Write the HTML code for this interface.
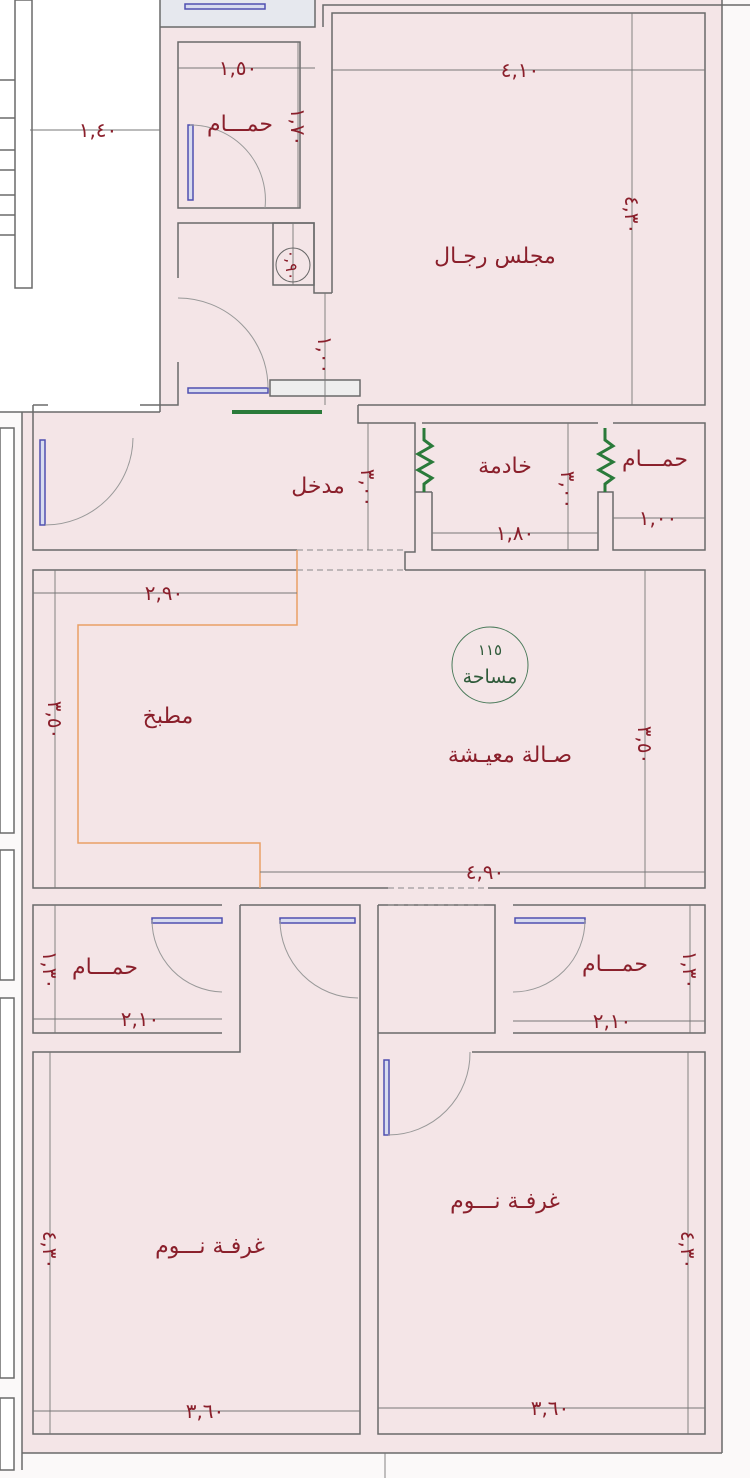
<!DOCTYPE html>
<html><head><meta charset="utf-8"><style>
html,body{margin:0;padding:0;background:#fff;}
svg{display:block;}
text{font-family:"DejaVu Sans","Liberation Sans",sans-serif;fill:#8a1f2b;}
.d{font-size:20px;}
.l{font-size:22px;}
</style></head><body>
<svg width="750" height="1478" viewBox="0 0 750 1478" xmlns="http://www.w3.org/2000/svg">
<rect x="0" y="0" width="750" height="1478" fill="#fbf9f9"/>
<rect x="22" y="0" width="700" height="1453" fill="#f4e5e7"/>
<rect x="0" y="0" width="160" height="412" fill="#ffffff"/>
<rect x="160" y="0" width="155" height="27" fill="#e6e8ee"/>
<g fill="none" stroke="#6a6a6a" stroke-width="1.5">
<rect x="15" y="0" width="17" height="288" fill="#fff"/>
<line x1="0" y1="80" x2="15" y2="80"/><line x1="0" y1="118" x2="15" y2="118"/><line x1="0" y1="150" x2="15" y2="150"/><line x1="0" y1="170" x2="15" y2="170"/><line x1="0" y1="195" x2="15" y2="195"/><line x1="0" y1="215" x2="15" y2="215"/><line x1="0" y1="235" x2="15" y2="235"/>
<line x1="160" y1="0" x2="160" y2="412"/><line x1="0" y1="412" x2="160" y2="412"/>
<line x1="22" y1="412" x2="22" y2="1470"/>
<rect x="0" y="428" width="14" height="405" fill="#fff"/>
<rect x="0" y="850" width="14" height="130" fill="#fff"/>
<rect x="0" y="998" width="14" height="380" fill="#fff"/>
<rect x="0" y="1398" width="14" height="72" fill="#fff"/>
<line x1="722" y1="0" x2="722" y2="1453"/>
<line x1="22" y1="1453" x2="722" y2="1453"/>
<polyline points="315,0 315,27 160,27"/>
<polyline points="323,27 323,5 750,5"/>
<polyline points="332,293 332,13 705,13 705,405 358,405"/>
<polyline points="332,293 314,293 314,223 178,223 178,278"/>
<rect x="273" y="223" width="41" height="62"/>
<rect x="178" y="42" width="122" height="166"/>
<polyline points="178,362 178,405 140,405"/>
<line x1="33" y1="405" x2="48" y2="405"/>
<rect x="270" y="380" width="90" height="16" fill="#eee"/>
<polyline points="33,405 33,550 297,550"/>
<polyline points="358,405 358,423 415,423 415,552 405,552 405,570"/>
<polyline points="422,423 598,423"/>
<polyline points="432,492 432,550 598,550 598,492 613,492 613,550 705,550 705,423 613,423"/>
<line x1="415" y1="492" x2="432" y2="492"/>
<polyline points="405,570 705,570 705,888 488,888"/>
<polyline points="297,570 33,570 33,888 388,888"/>
<polyline points="222,1033 33,1033 33,905 222,905"/>
<polyline points="240,905 360,905 360,1434 33,1434 33,1052 240,1052 240,905"/>
<polyline points="378,905 378,1434 705,1434 705,1052 472,1052"/>
<polyline points="378,905 495,905 495,1033 378,1033"/>
<polyline points="513,905 705,905 705,1033 513,1033"/>
</g>
<g stroke="#888" stroke-width="1" stroke-dasharray="6,4"><line x1="297" y1="550" x2="405" y2="550"/><line x1="297" y1="570" x2="405" y2="570"/><line x1="388" y1="888" x2="488" y2="888"/><line x1="388" y1="905" x2="488" y2="905"/></g>
<polyline points="297,550 297,625 78,625 78,843 260,843 260,888" fill="none" stroke="#e9a066" stroke-width="1.5"/>
<g stroke="#5050b0" stroke-width="1.5" fill="#d8dcef">
<rect x="185" y="4" width="80" height="5"/><rect x="188" y="125" width="5" height="75"/><rect x="188" y="388" width="80" height="5"/><rect x="40" y="440" width="5" height="85"/>
<rect x="152" y="918" width="70" height="5"/><rect x="280" y="918" width="75" height="5"/><rect x="515" y="918" width="70" height="5"/><rect x="384" y="1060" width="5" height="75"/>
</g>
<g fill="none" stroke="#999" stroke-width="1">
<path d="M190,125 A75,75 0 0 1 265,208"/><path d="M178,298 A90,90 0 0 1 268,388"/><path d="M45,525 A88,88 0 0 0 133,438"/>
<path d="M152,920 A72,72 0 0 0 222,992"/><path d="M280,920 A78,78 0 0 0 358,998"/><path d="M585,920 A72,72 0 0 1 513,992"/><path d="M388,1135 A82,82 0 0 0 470,1052"/>
</g>
<line x1="232" y1="412" x2="322" y2="412" stroke="#2a7a3a" stroke-width="4"/>
<g stroke="#2a7a3a" stroke-width="3" fill="none"><polyline points="424,428 424,440 432,446 418,454 432,462 418,470 432,478 424,484 424,492"/><polyline points="605,428 605,440 613,446 599,454 613,462 599,470 613,478 605,484 605,492"/></g>
<g stroke="#777" stroke-width="0.9">
<line x1="30" y1="130" x2="160" y2="130"/><line x1="178" y1="68" x2="315" y2="68"/><line x1="298" y1="42" x2="298" y2="208"/>
<line x1="332" y1="70" x2="705" y2="70"/><line x1="632" y1="13" x2="632" y2="405"/><line x1="293" y1="223" x2="293" y2="285"/>
<line x1="325" y1="293" x2="325" y2="405"/><line x1="368" y1="423" x2="368" y2="550"/><line x1="568" y1="423" x2="568" y2="550"/>
<line x1="432" y1="533" x2="598" y2="533"/><line x1="613" y1="518" x2="705" y2="518"/><line x1="33" y1="593" x2="297" y2="593"/>
<line x1="55" y1="570" x2="55" y2="888"/><line x1="645" y1="570" x2="645" y2="888"/><line x1="260" y1="872" x2="705" y2="872"/>
<line x1="55" y1="905" x2="55" y2="1033"/><line x1="690" y1="905" x2="690" y2="1033"/><line x1="33" y1="1019" x2="222" y2="1019"/><line x1="513" y1="1021" x2="705" y2="1021"/>
<line x1="50" y1="1052" x2="50" y2="1434"/><line x1="688" y1="1052" x2="688" y2="1434"/><line x1="33" y1="1411" x2="360" y2="1411"/><line x1="378" y1="1408" x2="705" y2="1408"/>
<line x1="385" y1="1453" x2="385" y2="1478"/>
</g>
<circle cx="293" cy="265" r="17" fill="none" stroke="#666"/>
<circle cx="490" cy="665" r="38" fill="none" stroke="#4a7a5a"/>
<g class="d" text-anchor="middle">
<text x="98" y="137">١,٤٠</text><text x="238" y="75">١,٥٠</text><text x="520" y="77">٤,١٠</text>
<text x="140" y="1026">٢,١٠</text><text x="612" y="1028">٢,١٠</text>
<text x="164" y="600">٢,٩٠</text><text x="485" y="879">٤,٩٠</text><text x="515" y="540">١,٨٠</text><text x="658" y="525">١,٠٠</text>
<text x="205" y="1418">٣,٦٠</text><text x="550" y="1415">٣,٦٠</text>
<text transform="translate(291,127) rotate(90)">١,٧٠</text>
<text transform="translate(625,215) rotate(90)">٤,٣٠</text>
<text transform="translate(286,265) rotate(90)" style="font-size:16px">٠,٩٠</text>
<text transform="translate(318,355) rotate(90)">١,٠٠</text>
<text transform="translate(361,488) rotate(90)">٣,٠٠</text>
<text transform="translate(561,490) rotate(90)">٣,٠٠</text>
<text transform="translate(48,720) rotate(90)">٣,٥٠</text>
<text transform="translate(638,745) rotate(90)">٣,٥٠</text>
<text transform="translate(43,970) rotate(90)">١,٣٠</text>
<text transform="translate(683,970) rotate(90)">١,٣٠</text>
<text transform="translate(43,1250) rotate(90)">٤,٣٠</text>
<text transform="translate(681,1250) rotate(90)">٤,٣٠</text>
</g>
<g class="l" text-anchor="middle">
<text x="240" y="131">حمـــام</text>
<text x="495" y="263">مجلس رجـال</text>
<text x="318" y="493">مدخل</text>
<text x="505" y="473">خادمة</text>
<text x="655" y="466">حمـــام</text>
<text x="168" y="723">مطبخ</text>
<text x="510" y="762">صـالة معيـشة</text>
<text x="105" y="974">حمـــام</text>
<text x="615" y="971">حمـــام</text>
<text x="210" y="1253">غرفـة نـــوم</text>
<text x="505" y="1208">غرفـة نـــوم</text>
</g>
<text x="490" y="655" text-anchor="middle" style="font-size:15px;fill:#2f5a3a">١١٥</text>
<text x="490" y="683" text-anchor="middle" style="font-size:19px;fill:#2f5a3a">مساحة</text>
</svg>
</body></html>
